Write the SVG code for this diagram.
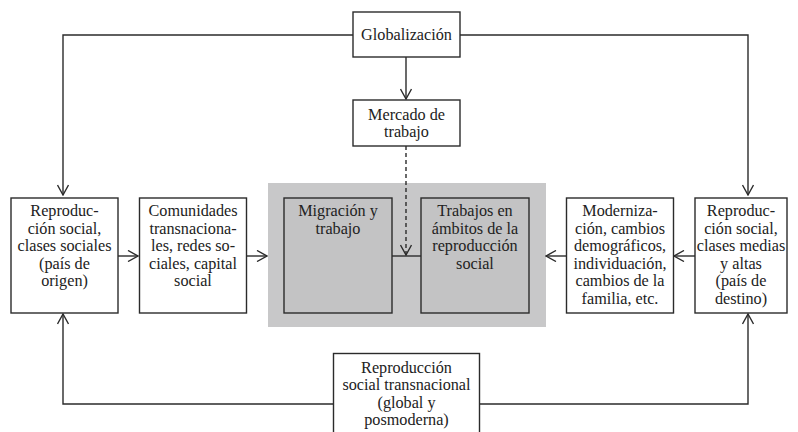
<svg xmlns="http://www.w3.org/2000/svg" width="798" height="432" viewBox="0 0 798 432">
<defs>
<style>
.box{fill:#fff;stroke:#2b2b2b;stroke-width:1.4}
.gbox{fill:#c3c3c4;stroke:#2b2b2b;stroke-width:1.4}
.ln{fill:none;stroke:#2b2b2b;stroke-width:1.4}
.dash{fill:none;stroke:#2b2b2b;stroke-width:1.4;stroke-dasharray:4 3}
text{font-family:'Liberation Serif','Times New Roman',serif;font-size:16.2px;fill:#222;text-anchor:middle}
</style>
<marker id="arr" viewBox="0 0 12 12" refX="11" refY="6" markerWidth="12" markerHeight="12" markerUnits="userSpaceOnUse" orient="auto">
<path d="M1,0.5 L11,6 L1,11.5" fill="none" stroke="#2b2b2b" stroke-width="1.4"/>
</marker>
</defs>
<rect x="268" y="183" width="278" height="144" fill="#c8c8c9"/>
<g id="connectors">
<path class="ln" d="M353,35 H63 V195" marker-end="url(#arr)"/>
<path class="ln" d="M460,35 H748 V195" marker-end="url(#arr)"/>
<path class="ln" d="M406,57 V99" marker-end="url(#arr)"/>
<path class="dash" d="M406,146 V255" marker-end="url(#arr)"/>
<path class="ln" d="M392,256 H421"/>
<path class="ln" d="M118,256 H138" marker-end="url(#arr)"/>
<path class="ln" d="M247,256 H267" marker-end="url(#arr)"/>
<path class="ln" d="M566,256 H546" marker-end="url(#arr)"/>
<path class="ln" d="M695,256 H674" marker-end="url(#arr)"/>
<path class="ln" d="M333,404 H63 V314" marker-end="url(#arr)"/>
<path class="ln" d="M480,404 H748 V314" marker-end="url(#arr)"/>
</g>
<g id="globalizacion">
<rect class="box" x="353" y="12" width="107" height="45"/>
<text x="406.5" y="39.5">Globalización</text>
</g>
<g id="mercado">
<rect class="box" x="353" y="100" width="107" height="46"/>
<text x="406.5" y="119.5">Mercado de</text>
<text x="406.5" y="137">trabajo</text>
</g>
<g id="reproduccion-origen">
<rect class="box" x="11" y="198" width="107" height="115"/>
<text x="64.5" y="216">Reproduc-</text>
<text x="64.5" y="233.5">ción social,</text>
<text x="64.5" y="251">clases sociales</text>
<text x="64.5" y="268.5">(país de</text>
<text x="64.5" y="286">origen)</text>
</g>
<g id="comunidades">
<rect class="box" x="139.5" y="198" width="107" height="115"/>
<text x="193" y="216">Comunidades</text>
<text x="193" y="233.5">transnaciona-</text>
<text x="193" y="251">les, redes so-</text>
<text x="193" y="268.5">ciales, capital</text>
<text x="193" y="286">social</text>
</g>
<g id="migracion">
<rect class="gbox" x="284" y="198" width="108" height="115"/>
<text x="338" y="216">Migración y</text>
<text x="338" y="233.5">trabajo</text>
</g>
<g id="trabajos">
<rect class="gbox" x="421" y="198" width="108" height="115"/>
<text x="475" y="216">Trabajos en</text>
<text x="475" y="233.5">ámbitos de la</text>
<text x="475" y="251">reproducción</text>
<text x="475" y="268.5">social</text>
</g>
<g id="modernizacion">
<rect class="box" x="566.5" y="198" width="107" height="115"/>
<text x="620" y="216">Moderniza-</text>
<text x="620" y="233.5">ción, cambios</text>
<text x="620" y="251">demográficos,</text>
<text x="620" y="268.5">individuación,</text>
<text x="620" y="286">cambios de la</text>
<text x="620" y="303.5">familia, etc.</text>
</g>
<g id="reproduccion-destino">
<rect class="box" x="695" y="198" width="92" height="115"/>
<text x="741" y="216">Reproduc-</text>
<text x="741" y="233.5">ción social,</text>
<text x="741" y="251">clases medias</text>
<text x="741" y="268.5">y altas</text>
<text x="741" y="286">(país de</text>
<text x="741" y="303.5">destino)</text>
</g>
<g id="reproduccion-transnacional">
<rect class="box" x="333.5" y="353.5" width="146" height="90"/>
<text x="406.5" y="372.5">Reproducción</text>
<text x="406.5" y="390">social transnacional</text>
<text x="406.5" y="407.5">(global y</text>
<text x="406.5" y="425">posmoderna)</text>
</g>
</svg>
